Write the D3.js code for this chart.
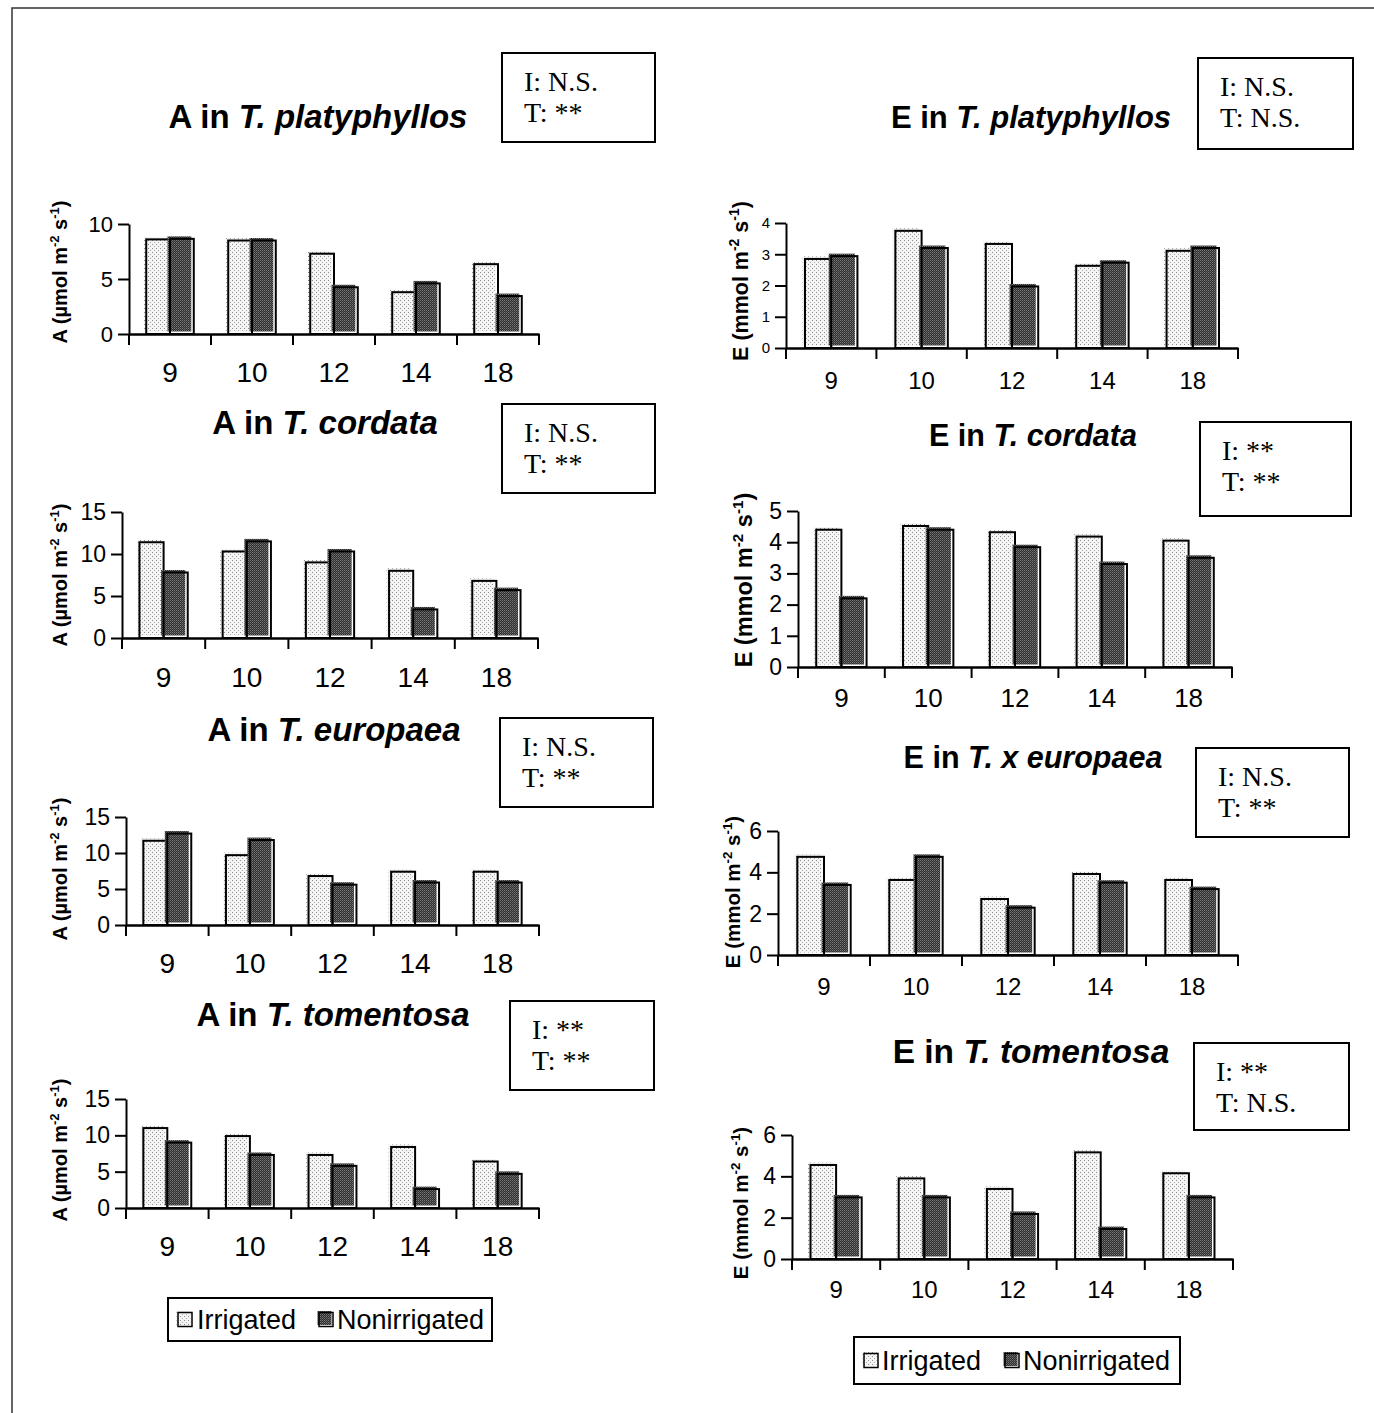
<!DOCTYPE html>
<html><head><meta charset="utf-8">
<script src="https://cdn.jsdelivr.net/npm/d3@7"></script>
<style>body{margin:0;background:#fff}svg{display:block}</style>
</head><body>
<svg id="c" width="1374" height="1413"></svg>
<script>
// ---------- DATA ----------
const categories = ["9", "10", "12", "14", "18"];
const seriesNames = ["Irrigated", "Nonirrigated"];

const A_platyphyllos_irr = [8.6, 8.5, 7.3, 3.8, 6.35];
const A_platyphyllos_non = [8.65, 8.5, 4.25, 4.6, 3.45];
const A_cordata_irr = [11.4, 10.3, 9.0, 8.0, 6.8];
const A_cordata_non = [7.8, 11.5, 10.3, 3.4, 5.7];
const A_europaea_irr = [11.7, 9.7, 6.8, 7.4, 7.4];
const A_europaea_non = [12.7, 11.8, 5.6, 5.9, 5.9];
const A_tomentosa_irr = [11.0, 9.9, 7.3, 8.4, 6.4];
const A_tomentosa_non = [9.0, 7.3, 5.8, 2.6, 4.7];

const E_platyphyllos_irr = [2.85, 3.75, 3.33, 2.63, 3.11];
const E_platyphyllos_non = [2.94, 3.2, 1.97, 2.73, 3.2];
const E_cordata_irr = [4.4, 4.52, 4.32, 4.18, 4.05];
const E_cordata_non = [2.2, 4.4, 3.84, 3.3, 3.5];
const E_europaea_irr = [4.75, 3.63, 2.71, 3.92, 3.63];
const E_europaea_non = [3.39, 4.75, 2.29, 3.5, 3.19];
const E_tomentosa_irr = [4.55, 3.9, 3.39, 5.16, 4.15];
const E_tomentosa_non = [2.98, 2.98, 2.18, 1.45, 2.98];

const ticksA10 = [0, 5, 10];
const ticksA15 = [0, 5, 10, 15];
const ticksE4 = [0, 1, 2, 3, 4];
const ticksE5 = [0, 1, 2, 3, 4, 5];
const ticksE6 = [0, 2, 4, 6];

const statsA_platyphyllos = ["I: N.S.", "T: **"];
const statsA_cordata = ["I: N.S.", "T: **"];
const statsA_europaea = ["I: N.S.", "T: **"];
const statsA_tomentosa = ["I: **", "T: **"];
const statsE_platyphyllos = ["I: N.S.", "T: N.S."];
const statsE_cordata = ["I: **", "T: **"];
const statsE_europaea = ["I: N.S.", "T: **"];
const statsE_tomentosa = ["I: **", "T: N.S."];

// ---------- LAYOUT ----------
const SANS = "'Liberation Sans', Arial, sans-serif";
const SERIF = "'Liberation Serif', 'Times New Roman', serif";

const panels = [
  {v: "A", sp: "T. platyphyllos", irr: A_platyphyllos_irr, non: A_platyphyllos_non, ticks: ticksA10, max: 10,
   x0: 129, x1: 539, y0: 334, yTop: 224, title: [318, 128, 33], box: [502, 53, 153, 89], stats: statsA_platyphyllos,
   ylab: [67, 272, 20], ytf: 22, xtf: 28, xto: 48},
  {v: "A", sp: "T. cordata", irr: A_cordata_irr, non: A_cordata_non, ticks: ticksA15, max: 15,
   x0: 122, x1: 538, y0: 638, yTop: 512, title: [325, 434, 33], box: [502, 404, 153, 89], stats: statsA_cordata,
   ylab: [67, 575, 20], ytf: 23, xtf: 28, xto: 49},
  {v: "A", sp: "T. europaea", irr: A_europaea_irr, non: A_europaea_non, ticks: ticksA15, max: 15,
   x0: 126, x1: 539, y0: 925, yTop: 817, title: [334, 741, 33], box: [500, 718, 153, 89], stats: statsA_europaea,
   ylab: [67, 869, 20], ytf: 23, xtf: 28, xto: 48},
  {v: "A", sp: "T. tomentosa", irr: A_tomentosa_irr, non: A_tomentosa_non, ticks: ticksA15, max: 15,
   x0: 126, x1: 539, y0: 1208, yTop: 1099, title: [333, 1026, 33], box: [510, 1001, 144, 89], stats: statsA_tomentosa,
   ylab: [67, 1150, 20], ytf: 23, xtf: 28, xto: 48},
  {v: "E", sp: "T. platyphyllos", irr: E_platyphyllos_irr, non: E_platyphyllos_non, ticks: ticksE4, max: 4,
   x0: 786, x1: 1238, y0: 348, yTop: 223, title: [1031, 128, 31], box: [1198, 58, 155, 91], stats: statsE_platyphyllos,
   ylab: [748, 281, 21.5], ytf: 15, xtf: 24, xto: 41},
  {v: "E", sp: "T. cordata", irr: E_cordata_irr, non: E_cordata_non, ticks: ticksE5, max: 5,
   x0: 798, x1: 1232, y0: 667, yTop: 511, title: [1033, 446, 30.5], box: [1200, 422, 151, 94], stats: statsE_cordata,
   ylab: [752, 580, 23.5], ytf: 23, xtf: 26, xto: 40},
  {v: "E", sp: "T. x europaea", irr: E_europaea_irr, non: E_europaea_non, ticks: ticksE6, max: 6,
   x0: 778, x1: 1238, y0: 955, yTop: 831, title: [1033, 768, 30.5], box: [1196, 748, 153, 89], stats: statsE_europaea,
   ylab: [740, 892, 20.5], ytf: 23, xtf: 24, xto: 40},
  {v: "E", sp: "T. tomentosa", irr: E_tomentosa_irr, non: E_tomentosa_non, ticks: ticksE6, max: 6,
   x0: 792, x1: 1233, y0: 1259, yTop: 1135, title: [1031, 1063, 33.5], box: [1194, 1043, 155, 87], stats: statsE_tomentosa,
   ylab: [748, 1203, 20.5], ytf: 23, xtf: 24, xto: 39}
];

const legends = [
  {x: 168, y: 1298, w: 324, h: 43, fs: 27, items: [[178, 197], [319, 337]]},
  {x: 854, y: 1337, w: 326, h: 47, fs: 27, items: [[864, 882], [1005, 1023]]}
];

// ---------- DRAW ----------
const svg = d3.select("#c");
const defs = svg.append("defs");

// irrigated: light dotted
const p1 = defs.append("pattern").attr("id", "pIrr").attr("patternUnits", "userSpaceOnUse")
  .attr("width", 4).attr("height", 4);
p1.append("rect").attr("width", 4).attr("height", 4).attr("fill", "#f4f4f4");
p1.append("rect").attr("x", 0).attr("y", 0).attr("width", 1).attr("height", 1).attr("fill", "#8c8c8c");
p1.append("rect").attr("x", 2).attr("y", 2).attr("width", 1).attr("height", 1).attr("fill", "#a8a8a8");
// nonirrigated: dark checker
const p2 = defs.append("pattern").attr("id", "pNon").attr("patternUnits", "userSpaceOnUse")
  .attr("width", 2).attr("height", 2);
p2.append("rect").attr("width", 2).attr("height", 2).attr("fill", "#2e2e2e");
p2.append("rect").attr("x", 0).attr("y", 0).attr("width", 1).attr("height", 1).attr("fill", "#7a7a7a");
p2.append("rect").attr("x", 1).attr("y", 1).attr("width", 1).attr("height", 1).attr("fill", "#5a5a5a");

// outer frame (top and left edges)
svg.append("path").attr("d", "M12,1413 L12,8 L1374,8").attr("fill", "none")
  .attr("stroke", "#333").attr("stroke-width", 1.5);

panels.forEach(p => {
  const g = svg.append("g");
  const x = d3.scaleBand().domain(categories).range([p.x0, p.x1]);
  const y = d3.scaleLinear().domain([0, p.max]).range([p.y0, p.yTop]);
  const bw = x.bandwidth() * 0.29;

  // bars
  const rows = categories.map((c, i) => ({c, irr: p.irr[i], non: p.non[i]}));
  [["irr", "pIrr", 0], ["non", "pNon", 1]].forEach(([key, pat, k]) => {
    const bx = d => x(d.c) + x.bandwidth() / 2 - bw + k * bw;
    g.selectAll(".f" + key).data(rows).join("rect")
      .attr("x", d => bx(d) - 2.5).attr("y", d => y(d[key]) - 2.5)
      .attr("width", bw).attr("height", d => y(0) - y(d[key]))
      .attr("fill", `url(#${pat})`);
    g.selectAll(".o" + key).data(rows).join("rect")
      .attr("x", d => bx(d)).attr("y", d => y(d[key]))
      .attr("width", bw).attr("height", d => y(0) - y(d[key]))
      .attr("fill", "none").attr("stroke", "#000").attr("stroke-width", 2);
  });

  // y axis
  const ya = g.append("g").attr("transform", `translate(${p.x0},0)`)
    .call(d3.axisLeft(y).tickValues(p.ticks).tickSize(11).tickSizeOuter(0).tickPadding(5).tickFormat(d3.format("d")));
  ya.selectAll("path,line").attr("stroke", "#000").attr("stroke-width", 2);
  ya.selectAll("text").attr("font-family", SANS).attr("font-size", p.ytf).attr("fill", "#000");

  // x axis
  const xa = g.append("g").attr("transform", `translate(0,${p.y0})`)
    .call(d3.axisBottom(x).tickSize(0).tickSizeOuter(0).tickPadding(p.xto - p.xtf * 0.72));
  xa.select(".domain").attr("stroke", "#000").attr("stroke-width", 2.5);
  xa.selectAll("text").attr("font-family", SANS).attr("font-size", p.xtf).attr("fill", "#000");
  const bounds = categories.map(c => x(c)).concat([x.range()[1]]);
  g.selectAll(".bt").data(bounds).join("line")
    .attr("x1", d => d).attr("x2", d => d).attr("y1", p.y0).attr("y2", p.y0 + 11)
    .attr("stroke", "#000").attr("stroke-width", 2);

  // y label
  const unit = p.v === "A" ? "\u00b5mol m" : "mmol m";
  const yl = g.append("text").attr("transform", `translate(${p.ylab[0]},${p.ylab[1]}) rotate(-90)`)
    .attr("text-anchor", "middle").attr("font-family", SANS).attr("font-weight", "bold")
    .attr("font-size", p.ylab[2]).attr("fill", "#000");
  yl.append("tspan").text(`${p.v} (${unit}`);
  yl.append("tspan").attr("dy", -p.ylab[2] * 0.4).attr("font-size", p.ylab[2] * 0.65).text("-2");
  yl.append("tspan").attr("dy", p.ylab[2] * 0.4).text(" s");
  yl.append("tspan").attr("dy", -p.ylab[2] * 0.4).attr("font-size", p.ylab[2] * 0.65).text("-1");
  yl.append("tspan").attr("dy", p.ylab[2] * 0.4).text(")");

  // title
  const t = g.append("text").attr("x", p.title[0]).attr("y", p.title[1]).attr("text-anchor", "middle")
    .attr("font-family", SANS).attr("font-weight", "bold").attr("font-size", p.title[2]).attr("fill", "#000");
  t.append("tspan").text(`${p.v} in `);
  t.append("tspan").attr("font-style", "italic").text(p.sp);

  // stats box
  const [bx0, by0, bw0, bh0] = p.box;
  g.append("rect").attr("x", bx0).attr("y", by0).attr("width", bw0).attr("height", bh0)
    .attr("fill", "#fff").attr("stroke", "#000").attr("stroke-width", 2);
  p.stats.forEach((s, i) => {
    g.append("text").attr("x", bx0 + 22).attr("y", by0 + 38 + i * 31)
      .attr("font-family", SERIF).attr("font-size", 28).attr("fill", "#000").text(s);
  });
});

// legends
legends.forEach(L => {
  const g = svg.append("g");
  g.append("rect").attr("x", L.x).attr("y", L.y).attr("width", L.w).attr("height", L.h)
    .attr("fill", "#fff").attr("stroke", "#000").attr("stroke-width", 2);
  const cy = L.y + L.h / 2;
  seriesNames.forEach((n, i) => {
    const [sx, tx] = L.items[i];
    g.append("rect").attr("x", sx - 1.5).attr("y", cy - 8.5).attr("width", 14).attr("height", 14)
      .attr("fill", i === 0 ? "url(#pIrr)" : "url(#pNon)");
    g.append("rect").attr("x", sx).attr("y", cy - 7).attr("width", 14).attr("height", 14)
      .attr("fill", "none").attr("stroke", "#000").attr("stroke-width", 1.5);
    g.append("text").attr("x", tx).attr("y", cy + L.fs * 0.36).attr("font-family", SANS)
      .attr("font-size", L.fs).attr("fill", "#000").text(n);
  });
});
</script>
</body></html>
